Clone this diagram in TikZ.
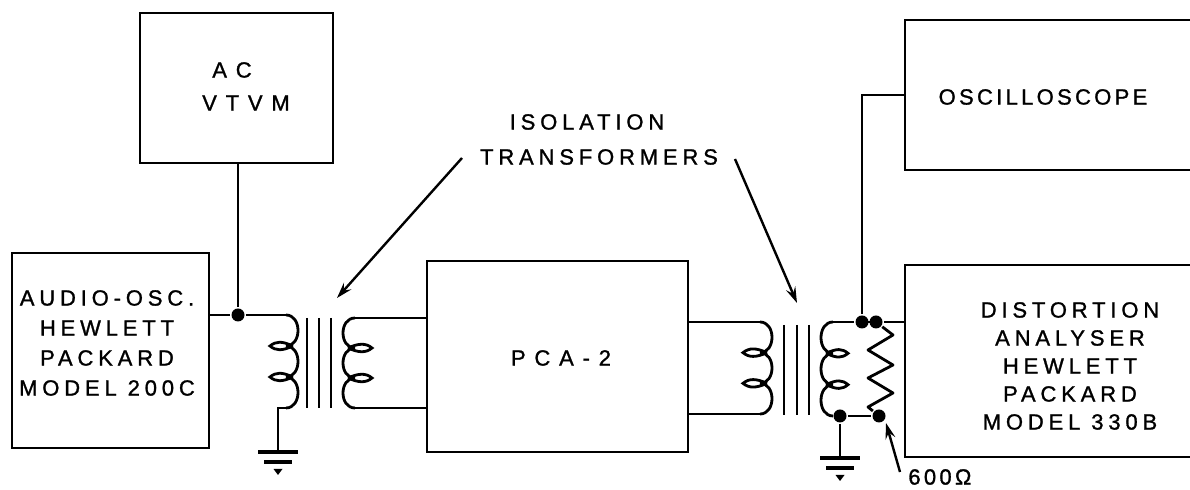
\documentclass[tikz,border=0pt]{standalone}
\usepackage{fontspec}
\setmainfont{Liberation Sans}[LetterSpace=22,FakeBold=1.2]
\newfontfamily\wideff{Liberation Sans}[LetterSpace=40,FakeBold=1.2]
\newfontfamily\narrowff{Liberation Sans}[LetterSpace=15,FakeBold=1.2]
\usetikzlibrary{arrows.meta}
\newcommand{\xfcoil}[5]{%
  \foreach \k in {0,1,2}{
    \pgfmathsetmacro{\ya}{#2+\k*#3}
    \pgfmathsetmacro{\yb}{#2+(\k+1)*#3}
    \pgfmathsetmacro{\xc}{#1+(#4)*16}
    \draw (#1,\ya) .. controls (\xc,\ya) and (\xc,\yb) .. (#1,\yb);
  }
  \foreach \k in {1,2}{
    \pgfmathsetmacro{\yl}{#2+\k*#3}
    \pgfmathsetmacro{\xr}{#1+(#4)*7}
    \pgfmathsetmacro{\xm}{#1-(#4)*4}
    \pgfmathsetmacro{\xn}{#1-(#4)*(#5-6)}
    \pgfmathsetmacro{\xt}{#1-(#4)*(#5)}
    \pgfmathsetmacro{\yu}{\yl-5}
    \pgfmathsetmacro{\yd}{\yl+5}
    \draw (\xr,\yl) .. controls (\xm,\yu) and (\xn,\yu) .. (\xt,\yl) .. controls (\xn,\yd) and (\xm,\yd) .. (\xr,\yl);
  }
}
\newcommand{\gndsym}[2]{%
  \draw[line width=1.8pt] (#1-20,#2) -- (#1+20,#2);
  \draw[line width=1.8pt] (#1-14,#2+10) -- (#1+14,#2+10);
  \fill (#1-4.5,#2+17) -- (#1+4.5,#2+17) -- (#1,#2+23) -- cycle;
}
\begin{document}
\begin{tikzpicture}[x=0.5pt,y=-0.5pt,line width=1.4pt,
  every node/.style={font=\fontsize{11pt}{14.5pt}\selectfont},
  box/.style={draw,line width=1.4pt,rectangle,inner sep=0pt},
  dot/.style={circle,fill,inner sep=0pt,minimum size=6.5pt},
  txt/.style={inner sep=0pt,align=center},
  pointer/.style={line width=1.2pt,-{Stealth[length=8pt,width=5pt,inset=3pt]}}]
\useasboundingbox (0,0) rectangle (1190,490);
% boxes
\node[box,minimum width=96.5pt,minimum height=75pt] (vtvm) at (236.5,88) {};
\node[box,minimum width=98.5pt,minimum height=97.5pt] (audio) at (110.5,350.5) {};
\node[box,minimum width=130.5pt,minimum height=95.5pt] (pca) at (557.5,356.5) {};
\node[box,minimum width=162.5pt,minimum height=75pt] (osc) at (1067.5,95) {};
\node[box,minimum width=162.5pt,minimum height=96pt] (dist) at (1067.5,361) {};
% texts
\node[txt,font=\fontsize{11pt}{14.5pt}\wideff] (tac) at (232,70) {AC};
\node[txt,font=\fontsize{11pt}{14.5pt}\wideff] (tvtvm) at (246,103) {VTVM};
\node[txt,font=\fontsize{11pt}{15pt}\selectfont] (taudio) at (107,343) {AUDIO-OSC.\\HEWLETT\\PACKARD\\MODEL 200C};
\node[txt,font=\fontsize{11pt}{14.5pt}\wideff] (tpca) at (561,358) {PCA-2};
\node[txt] (tiso) at (587,122) {ISOLATION};
\node[txt] (ttrans) at (599,157) {TRANSFORMERS};
\node[txt,font=\fontsize{11pt}{14.5pt}\narrowff] (tosc) at (1043,97) {OSCILLOSCOPE};
\node[txt,font=\fontsize{11pt}{14pt}\selectfont] (tdist) at (1070,366) {DISTORTION\\ANALYSER\\HEWLETT\\PACKARD\\MODEL 330B};
\node[txt,anchor=west,font=\fontsize{11pt}{14pt}\narrowff] (tohm) at (907,477) {600Ω};
% junction dots
\node[dot] (j1) at (238,315) {};
\node[dot] (dA) at (862,322) {};
\node[dot] (dB) at (876,322) {};
\node[dot] (dC) at (840,416) {};
\node[dot] (dD) at (879,416) {};
% wires left
\draw (audio.east |- j1) -- (j1);
\draw (j1) -- (j1 |- vtvm.south);
\draw (j1) -- (286,315);
% transformer 1
\xfcoil{286}{315}{31}{1}{16}
\draw (286,408) -- (278,408) -- (278,452);
\gndsym{278}{452}
\draw (307,318) -- (307,408);
\draw (319,318) -- (319,408);
\draw (331,318) -- (331,408);
\xfcoil{355}{318}{30}{-1}{17}
\draw (355,318) -- (pca.west |- 0,318);
\draw (355,408) -- (pca.west |- 0,408);
% transformer 2
\draw (pca.east |- 0,322) -- (760,322);
\draw (pca.east |- 0,414) -- (760,414);
\xfcoil{760}{322}{30.67}{1}{17}
\draw (784,325) -- (784,415);
\draw (797,325) -- (797,415);
\draw (809,325) -- (809,415);
\xfcoil{833}{322}{31.33}{-1}{15}
\draw (833,322) -- (dA) -- (dB) -- (dist.west |- dB);
\draw (833,416) -- (dC) -- (dD);
\draw (dC) -- (840,458);
\gndsym{840}{458}
% resistor
\draw[line join=round] (dB) -- (893,335) -- (868,350) -- (893,365) -- (868,378) -- (893,393) -- (868,407) -- (dD);
% oscilloscope wire
\draw (dA) -- (dA |- osc.west) -- (osc.west);
% pointers
\coordinate (isoL) at (462,158);
\coordinate (isoLt) at (337,298);
\coordinate (isoR) at (735,159);
\coordinate (isoRt) at (797,303);
\draw[pointer] (isoL) -- (isoLt);
\draw[pointer] (isoR) -- (isoRt);
\coordinate (ohmT) at (900,472);
\coordinate (ohmH) at (886,423);
\draw[pointer] (ohmT) -- (ohmH);
\end{tikzpicture}
\end{document}
